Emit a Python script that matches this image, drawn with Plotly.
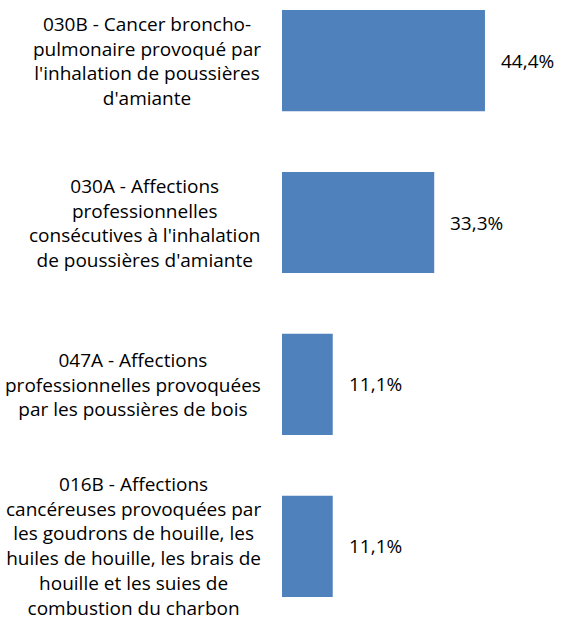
import plotly.graph_objects as go

categories = [
    "030B - Cancer broncho-<br>pulmonaire provoqué par<br>l'inhalation de poussières<br>d'amiante",
    "030A - Affections<br>professionnelles<br>consécutives à l'inhalation<br>de poussières d'amiante",
    "047A - Affections<br>professionnelles provoquées<br>par les poussières de bois",
    "016B - Affections<br>cancéreuses provoquées par<br>les goudrons de houille, les<br>huiles de houille, les brais de<br>houille et les suies de<br>combustion du charbon",
]
keys = ["030B", "030A", "047A", "016B"]
values = [44.44, 33.33, 11.11, 11.11]

FONT = "Open Sans"
FS = 19
TXT = "#000000"

fig = go.Figure(
    go.Bar(
        x=values,
        y=keys,
        orientation="h",
        marker=dict(color="#4F81BD", line=dict(width=0)),
        width=0.625,
        hoverinfo="skip",
    )
)

ann = []
for k, lab, v in zip(keys, categories, values):
    ann.append(dict(
        xref="paper", x=0, yref="y", y=k, xanchor="right", yanchor="middle",
        xshift=-19, text=lab, align="center", showarrow=False,
        font=dict(family=FONT, size=FS, color=TXT),
    ))
    ann.append(dict(
        xref="x", x=v, yref="y", y=k, xanchor="left", yanchor="middle",
        xshift=14, text=f"{v:.1f}%".replace(".", ","), showarrow=False,
        font=dict(family=FONT, size=FS, color=TXT),
    ))

fig.update_layout(
    width=571, height=621,
    margin=dict(l=282, r=0, t=0, b=0),
    paper_bgcolor="white", plot_bgcolor="white",
    showlegend=False,
    xaxis=dict(range=[0, 63.28], visible=False),
    yaxis=dict(type="category", categoryorder="array", categoryarray=keys,
               range=[3.4607, -0.374], visible=False),
    annotations=ann,
)

fig.write_html("out.html")
